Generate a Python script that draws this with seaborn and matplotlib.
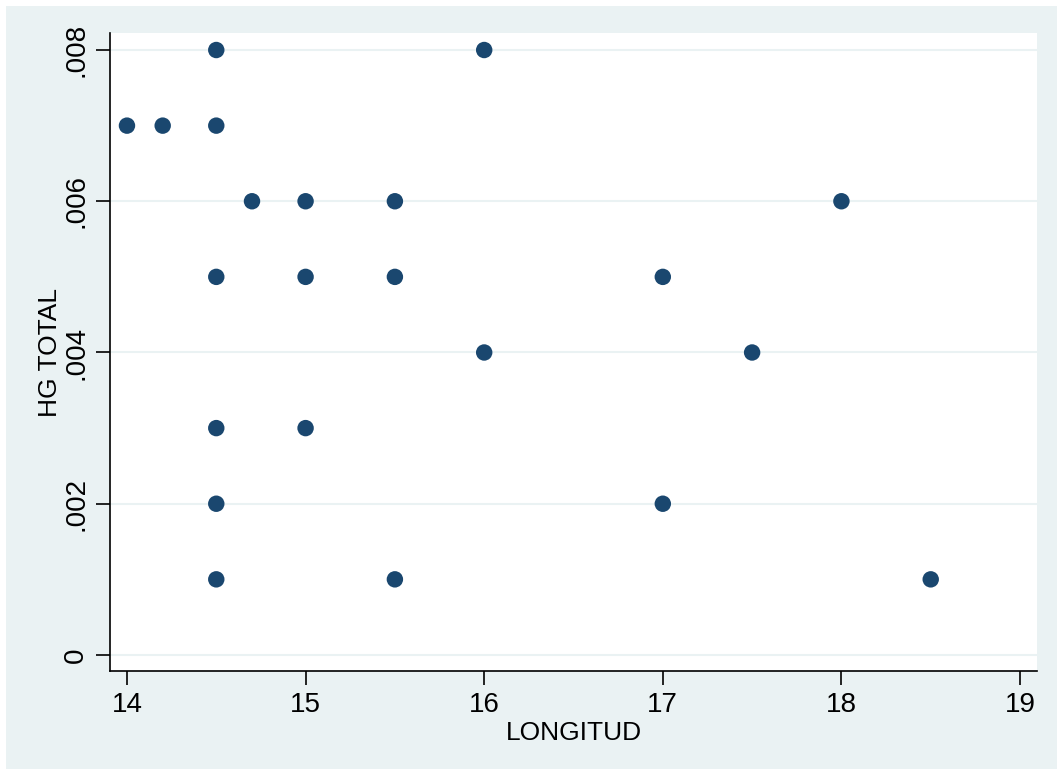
#!/usr/bin/env python3
import matplotlib
matplotlib.use('Agg')
import matplotlib.pyplot as plt
import pandas as pd
import seaborn as sns
from matplotlib.patches import Rectangle

sns.set_theme(style='white')
plt.rcParams['font.family'] = ['Liberation Sans', 'DejaVu Sans']
plt.rcParams['text.color'] = 'black'
plt.rcParams['axes.labelcolor'] = 'black'
plt.rcParams['xtick.color'] = 'black'
plt.rcParams['ytick.color'] = 'black'

BG = '#eaf2f3'
NAVY = '#1a476f'

longitud = [14, 14.2, 14.5, 14.5, 14.7, 15, 15.5, 16, 18,
            14.5, 15, 15.5, 17, 16, 17.5, 14.5, 15, 14.5, 17,
            14.5, 15.5, 18.5]
hg_total = [.007, .007, .008, .007, .006, .006, .006, .008, .006,
            .005, .005, .005, .005, .004, .004, .003, .003, .002, .002,
            .001, .001, .001]
x_ticks = [14, 15, 16, 17, 18, 19]
y_ticks = [0, .002, .004, .006, .008]
y_tick_labels = ['0', '.002', '.004', '.006', '.008']

df = pd.DataFrame({'LONGITUD': longitud, 'HG TOTAL': hg_total})

fig = plt.figure(figsize=(10.57, 7.69), dpi=100)
fig.patch.set_facecolor('white')
# light blue-grey graph region, white strip on top and left
fig.patches.append(Rectangle((6 / 1057, 0), 1, 1 - 6 / 769,
                             transform=fig.transFigure, facecolor=BG,
                             edgecolor='none', zorder=-10))

ax = fig.add_axes([110 / 1057, 1 - 671 / 769, 927 / 1057, 638 / 769])
ax.set_facecolor('white')

for y in y_ticks:
    ax.axhline(y, color=BG, lw=1.5, zorder=1)

sns.scatterplot(data=df, x='LONGITUD', y='HG TOTAL', ax=ax, color=NAVY,
                s=140, edgecolor='none', zorder=3)

ax.set_xlim(13.905, 19.095)
ax.set_ylim(-0.000212, 0.008225)
ax.set_xticks(x_ticks)
ax.set_xticklabels([str(t) for t in x_ticks], fontsize=20)
ax.set_yticks(y_ticks)
ax.set_yticklabels(y_tick_labels, fontsize=20, rotation=90, va='center')
ax.tick_params(axis='both', direction='out', length=10, width=1.2,
               color='black', labelcolor='black', left=True, bottom=True,
               pad=5)

for side in ['top', 'right']:
    ax.spines[side].set_visible(False)
for side in ['left', 'bottom']:
    ax.spines[side].set_color('black')
    ax.spines[side].set_linewidth(1.2)

ax.set_xlabel('LONGITUD', fontsize=19, labelpad=2, color='black')
ax.set_ylabel('HG TOTAL', fontsize=19, labelpad=1, color='black')

fig.savefig('out.png', dpi=100, facecolor=fig.get_facecolor())
